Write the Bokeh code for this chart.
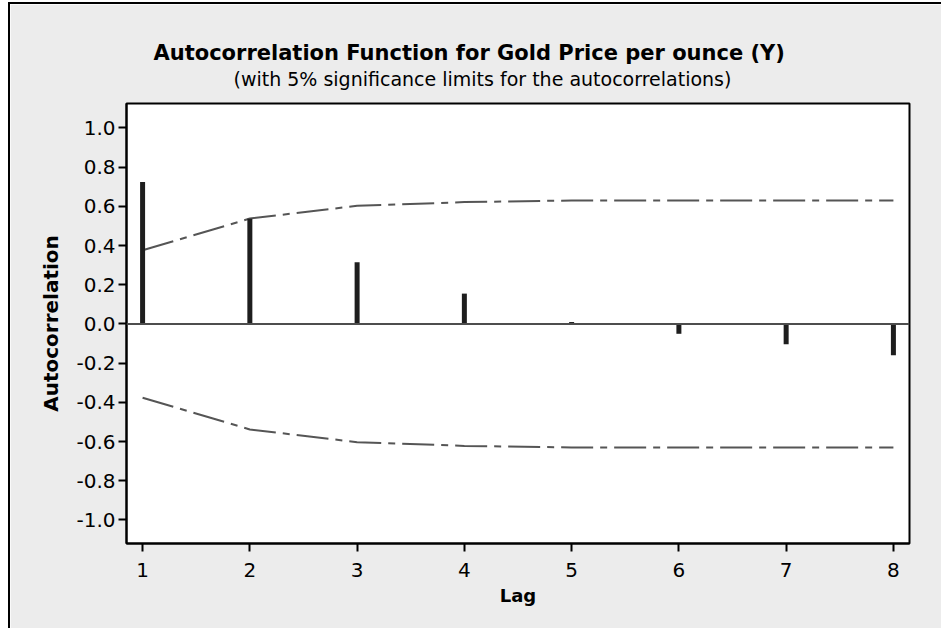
from bokeh.plotting import figure
from bokeh.models import Range1d, FixedTicker, Span, Title
from bokeh.embed import file_html
from bokeh.resources import INLINE

lags = [1, 2, 3, 4, 5, 6, 7, 8]
acf = [0.725, 0.537, 0.315, 0.155, 0.01, -0.05, -0.104, -0.16]
upper = [0.376, 0.538, 0.603, 0.622, 0.630, 0.630, 0.630, 0.630]
lower = [-u for u in upper]
y_ticks = [-1.0, -0.8, -0.6, -0.4, -0.2, 0.0, 0.2, 0.4, 0.6, 0.8, 1.0]
y_tick_labels = ["-1.0", "-0.8", "-0.6", "-0.4", "-0.2", "0.0", "0.2", "0.4", "0.6", "0.8", "1.0"]
title_text = "Autocorrelation Function for Gold Price per ounce (Y)"
subtitle_text = "(with 5% significance limits for the autocorrelations)"

FONT = "DejaVu Sans"

p = figure(width=933, height=626, output_backend="svg", toolbar_location=None,
           x_range=Range1d(0.85, 8.15), y_range=Range1d(-1.12, 1.125),
           min_border_left=116, min_border_right=34, min_border_top=99, min_border_bottom=87,
           background_fill_color="white", border_fill_color="#ececec",
           outline_line_color="black", outline_line_width=2)
p.styles = {"border-left": "2px solid black", "border-top": "2px solid black",
            "margin": "2px 0px 0px 8px"}

p.title = None
sub = Title(text=subtitle_text, align="left", offset=107, text_font=FONT, text_font_size="19px",
            text_font_style="normal", text_color="black", standoff=28)
main = Title(text=title_text, align="left", offset=27, text_font=FONT, text_font_size="21px",
             text_font_style="bold", text_color="black", standoff=-26)
p.add_layout(sub, "above")
p.add_layout(main, "above")

p.grid.visible = False

for ax in (p.xaxis, p.yaxis):
    ax.axis_line_color = "black"
    ax.axis_line_width = 2
    ax.major_tick_line_color = "black"
    ax.major_tick_line_width = 2
    ax.major_tick_out = 8
    ax.major_tick_in = 0
    ax.minor_tick_line_color = None
    ax.major_label_text_font = FONT
    ax.major_label_text_font_size = "20px"
    ax.major_label_text_color = "black"
    ax.axis_label_text_font = FONT
    ax.axis_label_text_font_style = "bold"
    ax.axis_label_text_color = "black"

p.xaxis.ticker = FixedTicker(ticks=lags)
p.xaxis.major_label_standoff = 11
p.xaxis.axis_label = "Lag"
p.xaxis.axis_label_text_font_size = "18px"
p.xaxis.axis_label_standoff = 5

p.yaxis.ticker = FixedTicker(ticks=y_ticks)
p.yaxis.major_label_overrides = {t: l for t, l in zip(y_ticks, y_tick_labels)}
p.yaxis.major_label_standoff = 3
p.yaxis.axis_label = "Autocorrelation"
p.yaxis.axis_label_text_font_size = "20px"
p.yaxis.axis_label_standoff = 10

p.add_layout(Span(location=0, dimension="width", line_color="#4d4d4d", line_width=2))

p.line(lags, upper, line_color="#555555", line_width=2, line_dash="32 7 7 7")
p.line(lags, lower, line_color="#555555", line_width=2, line_dash="32 7 7 7")

p.segment(x0=lags, y0=[0] * len(lags), x1=lags, y1=acf, line_color="#1e1e1e",
          line_width=5, line_cap="butt")

open("out.html", "w").write(file_html(p, INLINE))
